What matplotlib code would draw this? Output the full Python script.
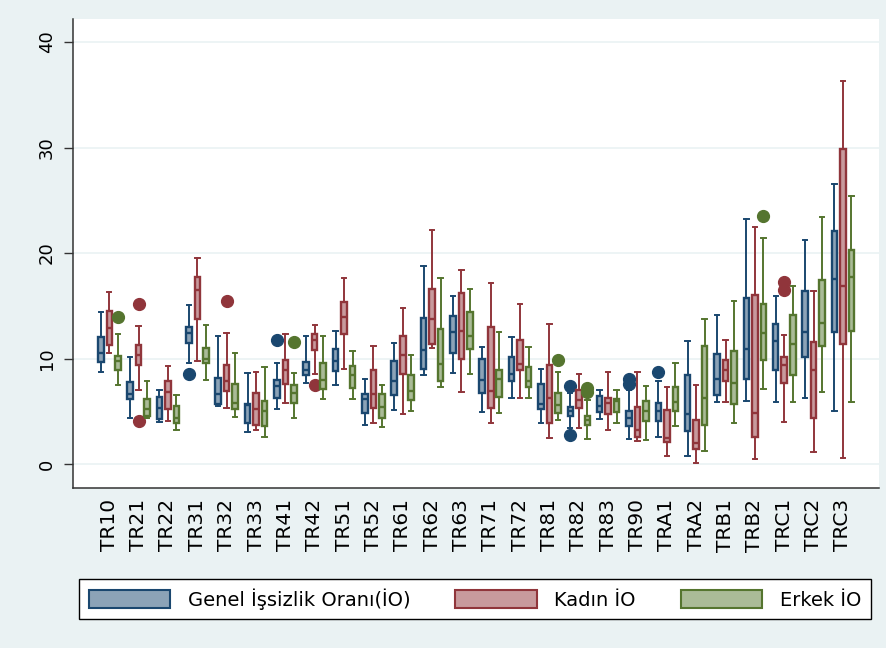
import matplotlib
matplotlib.use("Agg")
import matplotlib.pyplot as plt
from matplotlib.patches import Patch

categories = ["TR10", "TR21", "TR22", "TR31", "TR32", "TR33", "TR41", "TR42", "TR51",
              "TR52", "TR61", "TR62", "TR63", "TR71", "TR72", "TR81", "TR82", "TR83",
              "TR90", "TRA1", "TRA2", "TRB1", "TRB2", "TRC1", "TRC2", "TRC3"]

series_names = ["Genel İşsizlik Oranı(İO)", "Kadın İO", "Erkek İO"]

# each row: whisker low, q1, median, q3, whisker high
genel = [
    (8.7, 9.7, 10.5, 12.0, 14.4), (4.4, 6.2, 6.6, 7.8, 10.1), (4.0, 4.3, 5.3, 6.4, 7.0),
    (9.6, 11.5, 12.4, 13.0, 15.1), (5.5, 5.7, 6.6, 8.2, 12.1), (3.0, 3.9, 5.6, 5.7, 8.6),
    (5.2, 6.3, 7.4, 8.0, 9.6), (7.7, 8.4, 8.9, 9.7, 12.1), (7.5, 8.8, 9.8, 10.9, 12.6),
    (3.7, 4.8, 6.2, 6.6, 8.1), (5.1, 6.5, 7.9, 9.8, 11.5), (8.4, 9.0, 10.8, 13.8, 18.8),
    (8.6, 10.5, 12.5, 14.0, 15.9), (4.9, 6.7, 8.0, 10.0, 11.1), (6.3, 7.9, 8.5, 10.1, 12.0),
    (3.9, 5.2, 5.7, 7.6, 9.0), (3.4, 4.6, 5.0, 5.4, 6.7), (4.3, 4.9, 5.5, 6.45, 7.0),
    (2.4, 3.6, 4.4, 5.0, 7.0), (2.6, 4.1, 5.0, 5.8, 7.9), (0.8, 3.1, 4.7, 8.4, 11.7),
    (5.9, 6.5, 8.1, 10.4, 14.1), (6.0, 8.1, 10.9, 15.7, 23.2), (5.9, 8.9, 11.7, 13.3, 15.9),
    (6.3, 10.1, 12.5, 16.4, 21.2), (5.0, 12.5, 17.5, 22.1, 26.5)]
genel_out = {"TR31": [8.5], "TR41": [11.8], "TR82": [7.4, 2.8], "TR90": [8.1, 7.6],
             "TRA1": [8.75]}

kadin = [
    (10.5, 11.3, 12.9, 14.5, 16.3), (7.0, 9.4, 10.3, 11.3, 13.1), (4.1, 5.2, 6.8, 7.9, 9.3),
    (9.8, 13.7, 16.5, 17.7, 19.5), (5.3, 6.9, 7.9, 9.4, 12.4), (3.2, 3.7, 5.2, 6.7, 8.7),
    (5.8, 7.6, 8.9, 9.9, 12.3), (8.5, 10.8, 11.8, 12.3, 13.2), (9.0, 12.3, 13.9, 15.4, 17.6),
    (3.9, 5.3, 6.6, 8.9, 11.2), (4.7, 8.5, 10.3, 12.1, 14.8), (11.0, 11.4, 13.7, 16.6, 22.2),
    (6.8, 10.0, 12.6, 16.2, 18.4), (3.9, 5.3, 6.9, 13.0, 17.2), (6.3, 8.9, 9.5, 11.8, 15.2),
    (2.5, 3.9, 6.3, 9.4, 13.3), (3.4, 5.3, 6.1, 7.0, 8.5), (3.2, 4.75, 5.75, 6.3, 8.7),
    (2.2, 2.6, 3.2, 5.4, 8.75), (0.8, 2.1, 2.5, 5.1, 7.3), (0.1, 1.4, 2.0, 4.2, 7.5),
    (5.9, 7.9, 8.9, 9.9, 11.8), (0.5, 2.6, 4.8, 16.0, 22.5), (4.0, 7.7, 9.4, 10.1, 12.2),
    (1.1, 4.4, 8.9, 11.6, 16.4), (0.6, 11.4, 16.9, 29.9, 36.3)]
kadin_out = {"TR21": [15.2, 4.1], "TR32": [15.5], "TR42": [7.5], "TRC1": [17.3, 16.5]}

erkek = [
    (7.5, 8.9, 9.8, 10.2, 12.3), (4.4, 4.6, 5.2, 6.2, 7.9), (3.2, 3.85, 4.4, 5.5, 6.5),
    (8.0, 9.6, 10.0, 11.0, 13.2), (4.5, 5.2, 5.8, 7.6, 10.5), (2.6, 3.6, 5.0, 6.0, 9.2),
    (4.4, 5.8, 6.7, 7.5, 8.6), (6.2, 7.1, 8.0, 9.6, 12.1), (6.2, 7.2, 8.4, 9.3, 10.7),
    (3.5, 4.4, 5.4, 6.6, 7.5), (5.0, 6.1, 6.9, 8.4, 10.3), (7.3, 7.9, 9.5, 12.8, 17.6),
    (8.5, 10.9, 12.1, 14.4, 16.6), (4.8, 6.4, 8.1, 8.9, 12.5), (6.3, 7.3, 7.9, 9.2, 11.1),
    (4.2, 4.8, 5.6, 6.7, 8.7), (2.4, 3.7, 4.2, 4.6, 6.1), (3.9, 4.9, 6.0, 6.2, 7.0),
    (2.3, 4.1, 5.0, 6.0, 7.4), (3.6, 5.0, 5.9, 7.3, 9.6), (1.2, 3.7, 6.3, 11.2, 13.7),
    (3.9, 5.7, 7.7, 10.7, 15.5), (7.1, 9.9, 12.4, 15.2, 21.4), (5.9, 8.4, 11.4, 14.1, 16.9),
    (6.8, 11.2, 13.4, 17.4, 23.4), (5.9, 12.6, 17.7, 20.3, 25.4)]
erkek_out = {"TR10": [13.9], "TR41": [11.6], "TR81": [9.9], "TR82": [7.2, 6.8],
             "TRB2": [23.5]}

y_ticks = [0, 10, 20, 30, 40]

edge_colors = ["#1a476f", "#90353b", "#55752f"]
fill_colors = ["#8ca3b7", "#c89a9d", "#aabb97"]
bg = "#eaf2f3"

plt.rcParams["font.family"] = ["DejaVu Sans"]

fig = plt.figure(figsize=(8.87, 6.48), dpi=100, facecolor=bg)
ax = fig.add_axes([73 / 887, 1 - 488 / 648, (879 - 73) / 887, (488 - 19) / 648])
ax.set_facecolor("white")

offsets = [-0.29, 0.0, 0.29]
all_series = [(genel, genel_out), (kadin, kadin_out), (erkek, erkek_out)]
for s, (data, outs) in enumerate(all_series):
    stats = []
    for cat, (lo, q1, med, q3, hi) in zip(categories, data):
        stats.append({"whislo": lo, "q1": q1, "med": med, "q3": q3, "whishi": hi,
                      "fliers": outs.get(cat, [])})
    pos = [i + offsets[s] for i in range(len(categories))]
    ec = edge_colors[s]
    ax.bxp(stats, positions=pos, widths=0.19, patch_artist=True, showfliers=True,
           capwidths=0.15, manage_ticks=False,
           boxprops=dict(facecolor=fill_colors[s], edgecolor=ec, linewidth=1.7),
           whiskerprops=dict(color=ec, linewidth=1.4),
           capprops=dict(color=ec, linewidth=1.4),
           medianprops=dict(color=ec, linewidth=1.7),
           flierprops=dict(marker="o", markerfacecolor=ec, markeredgecolor=ec,
                           markersize=8.5, linestyle="none"),
           zorder=3)

ax.set_xlim(-1.237, 26.23)
ax.set_ylim(-2.27, 42.18)
ax.set_yticks(y_ticks)
ax.set_yticklabels([str(t) for t in y_ticks], rotation=90, va="center", fontsize=13)
ax.set_xticks(range(len(categories)))
ax.set_xticklabels(categories, rotation=90, fontsize=14.5)
ax.tick_params(axis="x", length=0, pad=8)
ax.tick_params(axis="y", length=6.5, width=1.0, color="#333333", pad=6)
ax.yaxis.grid(True, color=bg, linewidth=1.2, zorder=0)
ax.set_axisbelow(True)
for side in ["top", "right"]:
    ax.spines[side].set_visible(False)
for side in ["left", "bottom"]:
    ax.spines[side].set_color("#333333")
    ax.spines[side].set_linewidth(1.1)

handles = [Patch(facecolor=fill_colors[i], edgecolor=edge_colors[i], linewidth=1.5)
           for i in range(3)]
leg = fig.legend(handles, series_names, loc="center", bbox_to_anchor=(0.5355, 0.0756),
                 ncol=3, fontsize=14, frameon=True, fancybox=False, framealpha=1,
                 edgecolor="black", handlelength=4.2, handleheight=1.1,
                 handletextpad=0.9, columnspacing=2.3, borderpad=0.5)
leg.get_frame().set_linewidth(1.0)
leg.get_frame().set_facecolor("white")

fig.savefig("out.png", dpi=100, facecolor=bg)
